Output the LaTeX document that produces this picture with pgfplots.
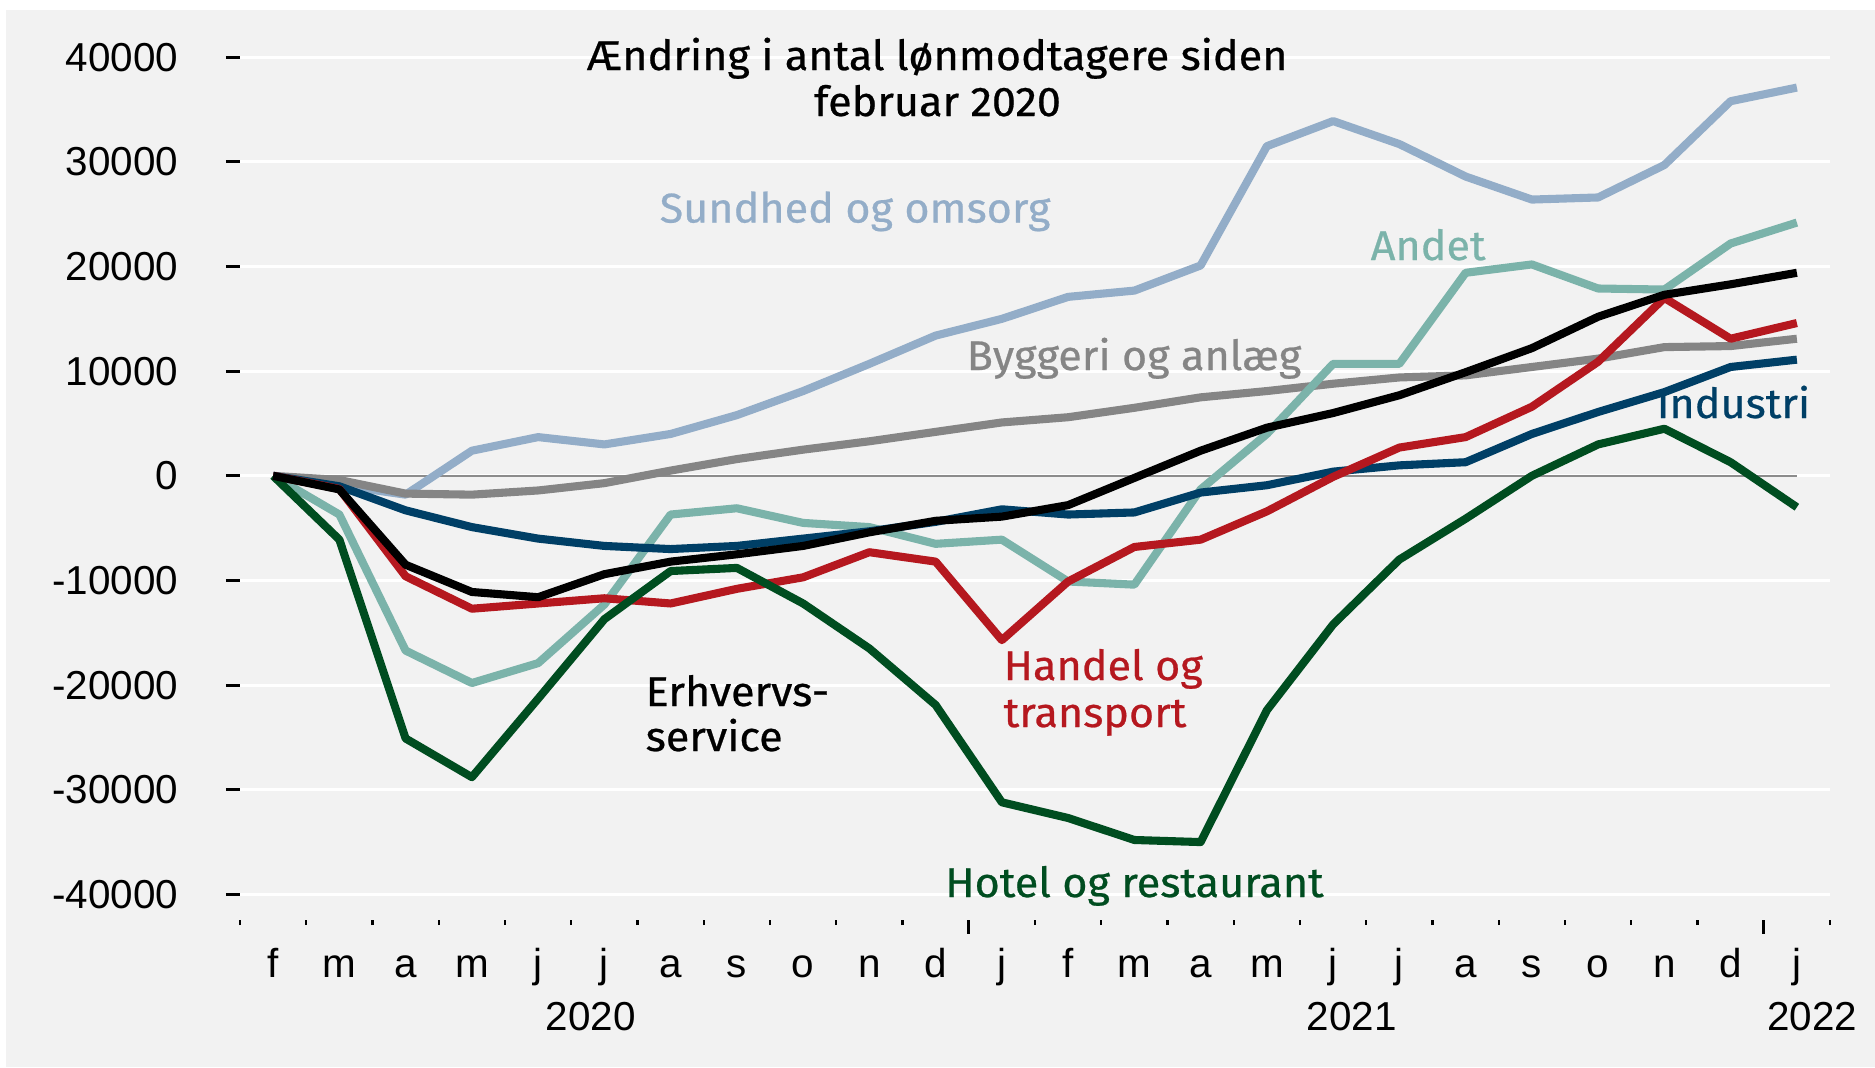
\documentclass[border=0pt]{standalone}
\usepackage{fontspec}
\setmainfont{Liberation Sans}
\newfontfamily\din[FakeBold=0.6, FakeStretch=1.04]{Fira Sans}
\usepackage{pgfplots}
\usepackage{pgfplotstable}
\pgfplotsset{compat=1.18}
\definecolor{bg}{HTML}{F2F2F2}
\definecolor{csund}{HTML}{93ADC8}
\definecolor{cbygg}{HTML}{858585}
\definecolor{candet}{HTML}{7BB3AA}
\definecolor{chandel}{HTML}{B5181F}
\definecolor{cindu}{HTML}{003F66}
\definecolor{chotel}{HTML}{004D20}
\definecolor{czero}{HTML}{8C8C8C}

\pgfplotstableread{
i sund bygg andet erhv handel indu hotel
0 0 0 0 0 0 0 0
1 -900 -400 -3700 -1300 -1250 -1000 -6100
2 -1800 -1700 -16700 -8500 -9600 -3300 -25100
3 2400 -1800 -19800 -11100 -12700 -4900 -28800
4 3700 -1400 -17900 -11600 -12200 -6000 -21300
5 3000 -700 -12300 -9400 -11700 -6700 -13700
6 4000 500 -3700 -8200 -12200 -7000 -9100
7 5800 1600 -3100 -7500 -10800 -6700 -8800
8 8100 2500 -4500 -6700 -9700 -6000 -12200
9 10700 3300 -4900 -5400 -7300 -5300 -16500
10 13400 4200 -6500 -4300 -8200 -4400 -21900
11 15000 5100 -6100 -3900 -15700 -3200 -31200
12 17100 5600 -10100 -2800 -10100 -3700 -32700
13 17700 6500 -10400 -200 -6800 -3500 -34800
14 20100 7500 -1300 2400 -6100 -1600 -35000
15 31500 8100 4000 4600 -3400 -900 -22400
16 33900 8800 10700 6000 -100 400 -14200
17 31700 9400 10700 7700 2700 1000 -8000
18 28600 9600 19400 9900 3700 1300 -4100
19 26400 10400 20200 12200 6600 4000 0
20 26600 11200 17900 15200 10900 6100 3000
21 29700 12300 17800 17300 17000 8000 4500
22 35800 12400 22200 18300 13100 10400 1300
23 37100 13100 24200 19400 14600 11100 -3000
}\datatable

\begin{document}
\begin{tikzpicture}
\begin{scope}[x=0.1mm,y=-0.1mm]
\fill[white] (0,0) rectangle (1875,1067);
\fill[bg] (6,10) rectangle (1875,1067);
\end{scope}
\begin{axis}[
  at={(24mm,-91.95mm)}, anchor=south west,
  scale only axis, width=159mm, height=91.46mm,
  xmin=-0.5, xmax=23.5, ymin=-42400, ymax=45000,
  scaled y ticks=false, scaled x ticks=false,
  axis x line*=bottom, axis y line*=left,
  axis line style={draw=none},
  tick align=outside,
  major tick length=1.4mm, minor tick length=0.55mm,
  every tick/.style={black, line width=0.8pt},
  minor tick style={black, line width=0.6pt},
  ytick={-40000,-30000,-20000,-10000,0,10000,20000,30000,40000},
  yticklabels={-40000,-30000,-20000,-10000,0,10000,20000,30000,40000},
  yticklabel style={anchor=east, inner sep=0pt, xshift=-4.7mm},
  xtick={10.5,22.5}, xticklabels={},
  minor xtick={-0.5,0.5,...,23.5},
  extra x ticks={0,1,...,23},
  extra x tick labels={f,m,a,m,j,j,a,s,o,n,d,j,f,m,a,m,j,j,a,s,o,n,d,j},
  extra x tick style={major tick length=0pt, xticklabel style={anchor=base, yshift=-5.75mm}},
  tick label style={font=\fontsize{11.5}{13}\selectfont},
  ymajorgrids, major grid style={white, line width=0.9pt},
  clip=false,
  every axis plot/.append style={line width=2.3pt, line join=round},
]
\addplot[czero, line width=0.75pt] coordinates {(0,0) (23,0)};
\addplot[csund] table[x=i, y=sund] {\datatable};
\addplot[cbygg] table[x=i, y=bygg] {\datatable};
\addplot[candet] table[x=i, y=andet] {\datatable};
\addplot[cindu] table[x=i, y=indu] {\datatable};
\addplot[chandel] table[x=i, y=handel] {\datatable};
\addplot[chotel] table[x=i, y=hotel] {\datatable};
\addplot[black] table[x=i, y=erhv] {\datatable};
\end{axis}
\begin{scope}[x=0.1mm,y=-0.1mm, every node/.style={inner sep=0pt}]
\def\af{\din\fontsize{11.8}{13}\selectfont}
\node[anchor=base] at (937.5,70) {\af Ændring i antal lønmodtagere siden};
\node[anchor=base] at (937.5,116) {\af februar 2020};
\node[anchor=base west, text=csund] at (659,222.5) {\af Sundhed og omsorg};
\node[anchor=base west, text=cbygg] at (966,370) {\af Byggeri og anlæg};
\node[anchor=base west, text=candet] at (1370,260) {\af Andet};
\node[anchor=base west, text=cindu] at (1656,418) {\af Industri};
\node[anchor=base west] at (645,706) {\af Erhvervs-};
\node[anchor=base west] at (645,751) {\af service};
\node[anchor=base west, text=chandel] at (1003,680) {\af Handel og};
\node[anchor=base west, text=chandel] at (1003,727) {\af transport};
\node[anchor=base west, text=chotel] at (944.6,897) {\af Hotel og restaurant};
\def\tf{\fontsize{11.5}{13}\selectfont}
\node[anchor=base] at (590.6,1030) {\tf 2020};
\node[anchor=base] at (1351.6,1030) {\tf 2021};
\node[anchor=base] at (1812,1030) {\tf 2022};
\end{scope}
\pgfresetboundingbox
\path[use as bounding box] (0,0) rectangle (187.5mm,-106.7mm);
\end{tikzpicture}
\end{document}
